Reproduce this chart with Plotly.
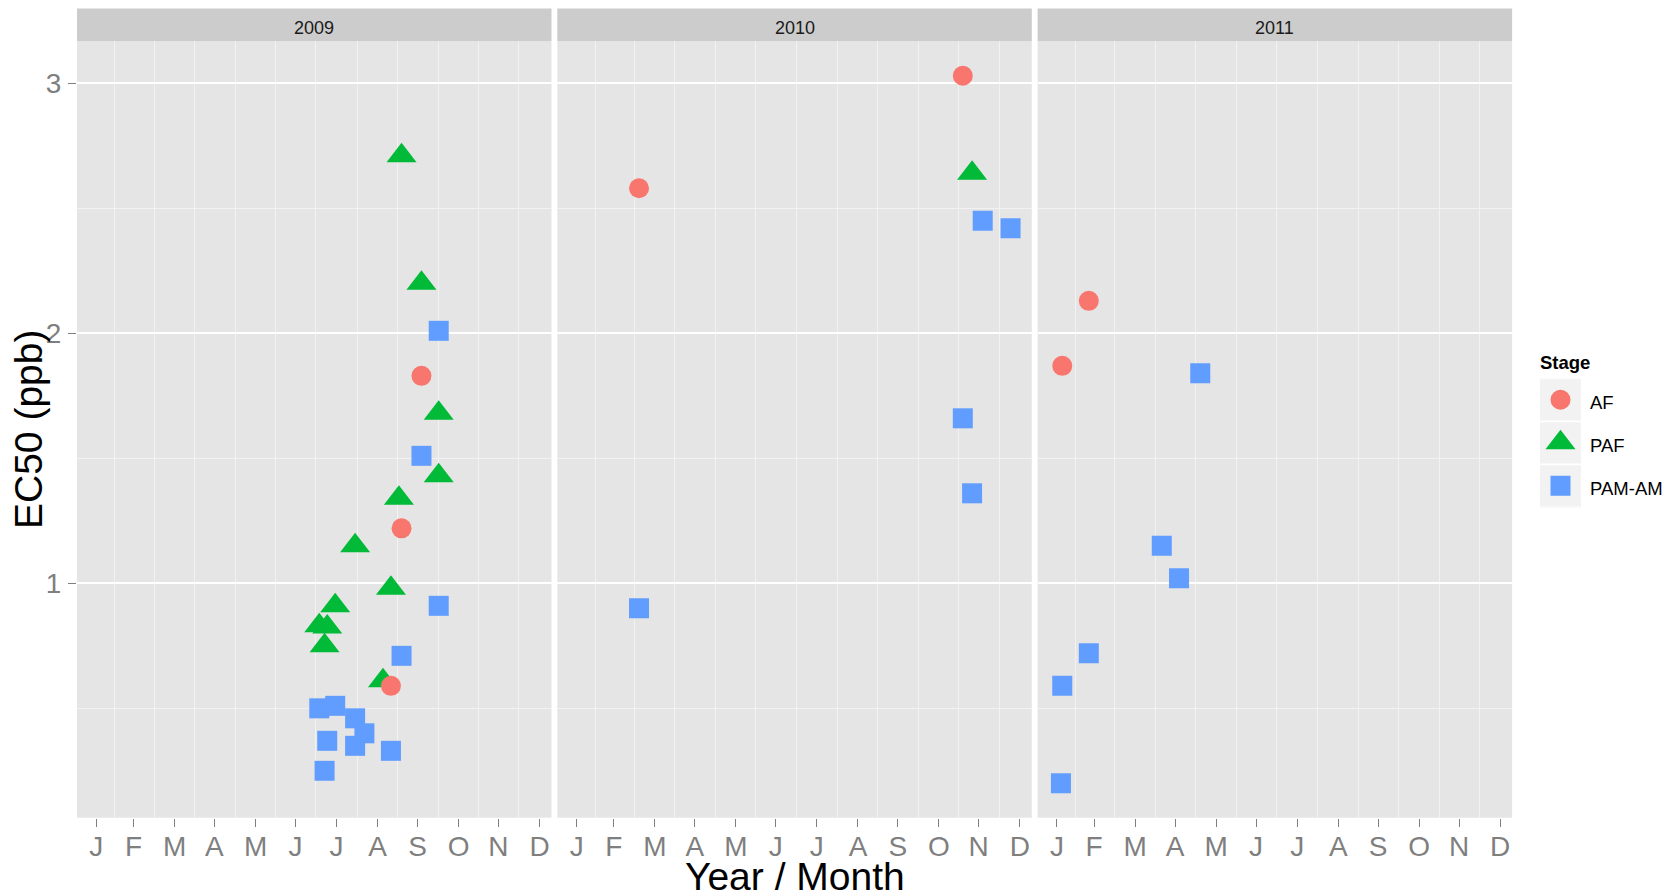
import pandas as pd
import plotly.graph_objects as go

# ---------------- data ----------------
stages = ["AF", "PAF", "PAM-AM"]
stage_colors = ["#F8766D", "#00BA38", "#619CFF"]
stage_symbols = ["circle", "triangle-up", "square"]
stage_sizes = [20, 26, 20]
years = [2009, 2010, 2011]
month_labels = ["J", "F", "M", "A", "M", "J", "J", "A", "S", "O", "N", "D"]
y_ticks = [1, 2, 3]
y_minor = [0.5, 1.5, 2.5]

af_dates = ["2009-09-19", "2009-09-11", "2009-10-04",
            "2010-11-19", "2010-03-20",
            "2011-02-25", "2011-02-05"]
af_ec50 = [1.22, 0.59, 1.83,
           3.03, 2.58,
           2.13, 1.87]

paf_dates = ["2009-09-19", "2009-10-04", "2009-10-17", "2009-10-17", "2009-09-17",
             "2009-08-15", "2009-09-11", "2009-07-31", "2009-07-19", "2009-07-25",
             "2009-07-23", "2009-09-05",
             "2010-11-26"]
paf_ec50 = [2.71, 2.20, 1.68, 1.43, 1.34,
            1.15, 0.98, 0.91, 0.83, 0.825,
            0.75, 0.61,
            2.64]

pam_dates = ["2009-10-17", "2009-10-04", "2009-10-17", "2009-09-19", "2009-07-19",
             "2009-07-31", "2009-08-15", "2009-08-22", "2009-07-25", "2009-08-15",
             "2009-09-11", "2009-07-23",
             "2010-12-04", "2010-12-25", "2010-11-19", "2010-11-26", "2010-03-20",
             "2011-05-20", "2011-04-21", "2011-05-04", "2011-02-25", "2011-02-05",
             "2011-02-04"]
pam_ec50 = [2.01, 1.51, 0.91, 0.71, 0.50,
            0.51, 0.46, 0.40, 0.37, 0.35,
            0.33, 0.25,
            2.45, 2.42, 1.66, 1.36, 0.90,
            1.84, 1.15, 1.02, 0.72, 0.59,
            0.20]

stage_data = {
    "AF": (af_dates, af_ec50),
    "PAF": (paf_dates, paf_ec50),
    "PAM-AM": (pam_dates, pam_ec50),
}

# ---------------- geometry (pixels) ----------------
W, H = 1675, 896
panel_x0 = 77.0
panel_w = 474.5
panel_gap = 5.8
panel_top = 41.3
panel_bot = 817.7
strip_top = 8.5

FONT = "Liberation Sans, Arial, Helvetica, sans-serif"
GREY_TXT = "#7F7F7F"


def px_x(p):
    return p / W


def px_y(p):
    return 1 - p / H


fig = go.Figure()
layout = dict(
    width=W, height=H,
    margin=dict(l=0, r=0, t=0, b=0),
    paper_bgcolor="white",
    plot_bgcolor="#E5E5E5",
    showlegend=False,
    font=dict(family=FONT, color="black"),
)

shapes = []
annotations = []

# draw order: PAF, AF, PAM-AM (circles sit on triangles, squares on top)
draw_order = ["PAF", "AF", "PAM-AM"]

for i, yr in enumerate(years):
    n = i + 1
    xa = "x" if n == 1 else f"x{n}"
    ya = "y" if n == 1 else f"y{n}"
    x0 = panel_x0 + i * (panel_w + panel_gap)
    x1 = x0 + panel_w

    for st in draw_order:
        k = stages.index(st)
        dts, vals = stage_data[st]
        xs = [d for d in dts if d.startswith(str(yr))]
        ys = [v for d, v in zip(dts, vals) if d.startswith(str(yr))]
        if not xs:
            continue
        fig.add_trace(go.Scatter(
            x=xs, y=ys, mode="markers", name=st,
            xaxis=xa, yaxis=ya,
            marker=dict(symbol=stage_symbols[k], color=stage_colors[k],
                        size=stage_sizes[k], line=dict(width=0)),
            hoverinfo="x+y+name",
        ))

    ticks = [f"{yr}-{m:02d}-01" for m in range(2, 13)] + [f"{yr + 1}-01-01"]
    tt = pd.to_datetime(ticks)
    mids = [(tt[j] + (tt[j + 1] - tt[j]) / 2).strftime("%Y-%m-%d %H:%M:%S")
            for j in range(len(tt) - 1)]

    layout["xaxis" if n == 1 else f"xaxis{n}"] = dict(
        type="date",
        domain=[px_x(x0), px_x(x1)],
        range=[f"{yr}-01-17 10:00", f"{yr + 1}-01-10 00:00"],
        anchor=ya,
        tickmode="array", tickvals=ticks, ticktext=month_labels,
        ticks="outside", ticklen=8, tickwidth=1.3, tickcolor=GREY_TXT,
        ticklabelstandoff=-4,
        tickfont=dict(size=28, color=GREY_TXT, family=FONT),
        showgrid=False, zeroline=False, showline=False,
        minor=dict(tickmode="array", tickvals=mids, showgrid=True,
                   gridcolor="#F2F2F2", gridwidth=1.1, ticks=""),
        automargin=False, fixedrange=True,
    )
    yax = dict(
        domain=[px_y(panel_bot), px_y(panel_top)],
        range=[0.0625, 3.168],
        anchor=xa,
        tickmode="array", tickvals=y_ticks,
        showgrid=True, gridcolor="#FFFFFF", gridwidth=1.8,
        minor=dict(tickmode="array", tickvals=y_minor, showgrid=True,
                   gridcolor="#F2F2F2", gridwidth=1.1, ticks=""),
        zeroline=False, showline=False,
        automargin=False, fixedrange=True,
    )
    if n == 1:
        yax.update(ticks="outside", ticklen=8, tickwidth=1.3, tickcolor=GREY_TXT,
                   ticklabelstandoff=1,
                   tickfont=dict(size=28, color=GREY_TXT, family=FONT),
                   showticklabels=True)
    else:
        yax.update(ticks="", showticklabels=False, matches="y")
    layout["yaxis" if n == 1 else f"yaxis{n}"] = yax

    # facet strip
    shapes.append(dict(type="rect", xref="paper", yref="paper",
                       x0=px_x(x0), x1=px_x(x1), y0=px_y(panel_top), y1=px_y(strip_top),
                       fillcolor="#CCCCCC", line=dict(width=0), layer="below"))
    annotations.append(dict(text=str(yr), xref="paper", yref="paper",
                            x=px_x((x0 + x1) / 2), y=px_y((panel_top + strip_top) / 2 + 3),
                            xanchor="center", yanchor="middle", showarrow=False,
                            font=dict(size=18, color="#1A1A1A", family=FONT)))

# ---------------- legend (as a small categorical subplot) ----------------
leg_x0, leg_x1 = 1540.0, 1581.0
leg_y0, leg_y1 = 378.3, 507.3
for k, st in enumerate(stages):
    fig.add_trace(go.Scatter(
        x=[0], y=[st], mode="markers", xaxis="x4", yaxis="y4",
        marker=dict(symbol=stage_symbols[k], color=stage_colors[k],
                    size=stage_sizes[k], line=dict(width=0)),
        hoverinfo="skip",
    ))
    annotations.append(dict(text=st, xref="x4 domain", yref="y4",
                            x=1, y=st, xanchor="left", yanchor="middle",
                            xshift=7, yshift=-3, showarrow=False,
                            font=dict(size=18.5, color="black", family=FONT)))
layout["xaxis4"] = dict(domain=[px_x(leg_x0), px_x(leg_x1)], range=[-0.5, 0.5],
                        anchor="y4", visible=False, fixedrange=True)
layout["yaxis4"] = dict(domain=[px_y(leg_y1), px_y(leg_y0)], type="category",
                        categoryorder="array", categoryarray=stages,
                        range=[2.5, -0.5], anchor="x4", visible=False,
                        automargin=False, fixedrange=True)
shapes.append(dict(type="rect", xref="x4 domain", yref="y4 domain",
                   x0=0, x1=1, y0=0, y1=1, fillcolor="white",
                   line=dict(width=0), layer="below"))
for k, st in enumerate(stages):
    shapes.append(dict(type="rect", xref="x4 domain", yref="y4",
                       x0=0, x1=1, y0=k - 0.48, y1=k + 0.48,
                       fillcolor="#F2F2F2", line=dict(width=0), layer="below"))
annotations.append(dict(text="<b>Stage</b>", xref="paper", yref="paper",
                        x=px_x(1538), y=px_y(362), xanchor="left", yanchor="middle",
                        showarrow=False, font=dict(size=18.5, color="black", family=FONT)))

# ---------------- axis titles ----------------
annotations.append(dict(text="Year / Month", xref="paper", yref="paper",
                        x=px_x(794.5), y=px_y(876), xanchor="center", yanchor="middle",
                        showarrow=False, font=dict(size=39, color="black", family=FONT)))
annotations.append(dict(text="EC50 (ppb)", xref="paper", yref="paper",
                        x=px_x(28.5), y=px_y(429.5), xanchor="center", yanchor="middle",
                        textangle=-90, showarrow=False,
                        font=dict(size=39, color="black", family=FONT)))

layout["shapes"] = shapes
layout["annotations"] = annotations
fig.update_layout(**layout)

fig.write_html("out.html")
